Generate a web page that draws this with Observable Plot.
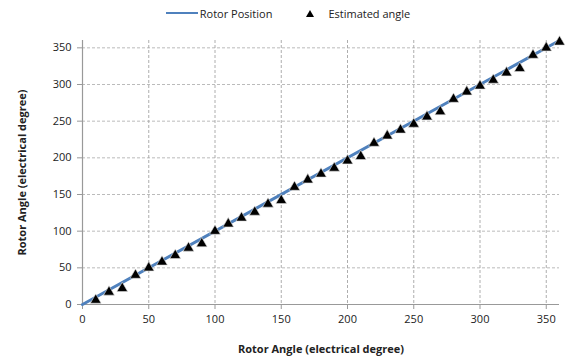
<!DOCTYPE html>
<html><head><meta charset="utf-8">
<script src="https://cdn.jsdelivr.net/npm/d3@7"></script>
<script src="https://cdn.jsdelivr.net/npm/@observablehq/plot@0.6"></script>
<style>
body{margin:0;background:#fff;font-family:"Open Sans","Liberation Sans",sans-serif;}
#legend{height:26px;display:flex;justify-content:center;align-items:center;font-size:11px;color:#222;gap:34px;padding-left:8px;box-sizing:border-box;}
.li{display:flex;align-items:center;}
.sw{display:inline-block;width:32px;height:2.5px;background:#4f81bd;margin-right:2px;}
.tri{display:inline-block;width:0;height:0;border-left:4px solid transparent;border-right:4px solid transparent;border-bottom:7px solid #000;margin-right:14px;}
</style></head>
<body>
<div id="legend"><span class="li"><span class="sw"></span>Rotor Position</span><span class="li"><span class="tri"></span>Estimated angle</span></div>
<div id="chart"></div>
<script>
const rotorX = [0, 360];
const rotorY = [0, 360];
const estX = [10,20,30,40,50,60,70,80,90,100,110,120,130,140,150,160,170,180,190,200,210,220,230,240,250,260,270,280,290,300,310,320,330,340,350,360];
const estY = [6,17,22,40,50,58,67,77,83,100,110,118,126,137,142,160,170,178,186,196,202,220,230,238,246,256,263,280,290,298,306,316,322,340,350,358];
const xTicks = [0,50,100,150,200,250,300,350];
const yTicks = [0,50,100,150,200,250,300,350];

const rotor = rotorX.map((x,i)=>({x, y: rotorY[i]}));
const est = estX.map((x,i)=>({x, y: estY[i]}));

const chart = Plot.plot({
  width: 568, height: 334,
  marginTop: 14, marginBottom: 56, marginLeft: 82, marginRight: 9,
  style: {fontFamily: '"Open Sans","Liberation Sans",sans-serif', fontSize: "11px", color: "#222"},
  x: {domain: [0,360], ticks: xTicks, tickSize: 5, tickPadding: 6, label: null},
  y: {domain: [0,360], ticks: yTicks, tickSize: 5, tickPadding: 6, label: null},
  marks: [
    Plot.gridX(xTicks.filter(d=>d>0), {stroke: "#999", strokeOpacity: 1, strokeDasharray: "3,2", strokeWidth: 0.8}),
    Plot.gridY(yTicks.filter(d=>d>0), {stroke: "#aaa", strokeOpacity: 1, strokeDasharray: "3,2", strokeWidth: 0.8}),
    Plot.ruleY([0], {stroke: "#999", strokeWidth: 1.2}),
    Plot.ruleX([0], {stroke: "#999", strokeWidth: 1.2}),
    Plot.axisX({ticks: xTicks, tickSize: 5, tickPadding: 6, stroke: "#999", label: null, fill: "#222"}),
    Plot.axisY({ticks: yTicks, tickSize: 5, tickPadding: 6, stroke: "#999", label: null, fill: "#222"}),
    Plot.line(rotor, {x: "x", y: "y", stroke: "#4f81bd", strokeWidth: 3}),
    Plot.dot(est, {x: "x", y: "y", symbol: "triangle", r: 4, fill: "#000", stroke: "#ddd", strokeWidth: 0.6}),
    Plot.text(["Rotor Angle (electrical degree)"], {frameAnchor: "bottom", dy: 48, fontWeight: "bold", fontSize: 11, fill: "#222"}),
    Plot.text(["Rotor Angle (electrical degree)"], {frameAnchor: "left", textAnchor: "middle", dx: -60, rotate: -90, fontWeight: "bold", fontSize: 11, fill: "#222"})
  ]
});
document.getElementById("chart").appendChild(chart);
</script>
</body></html>
